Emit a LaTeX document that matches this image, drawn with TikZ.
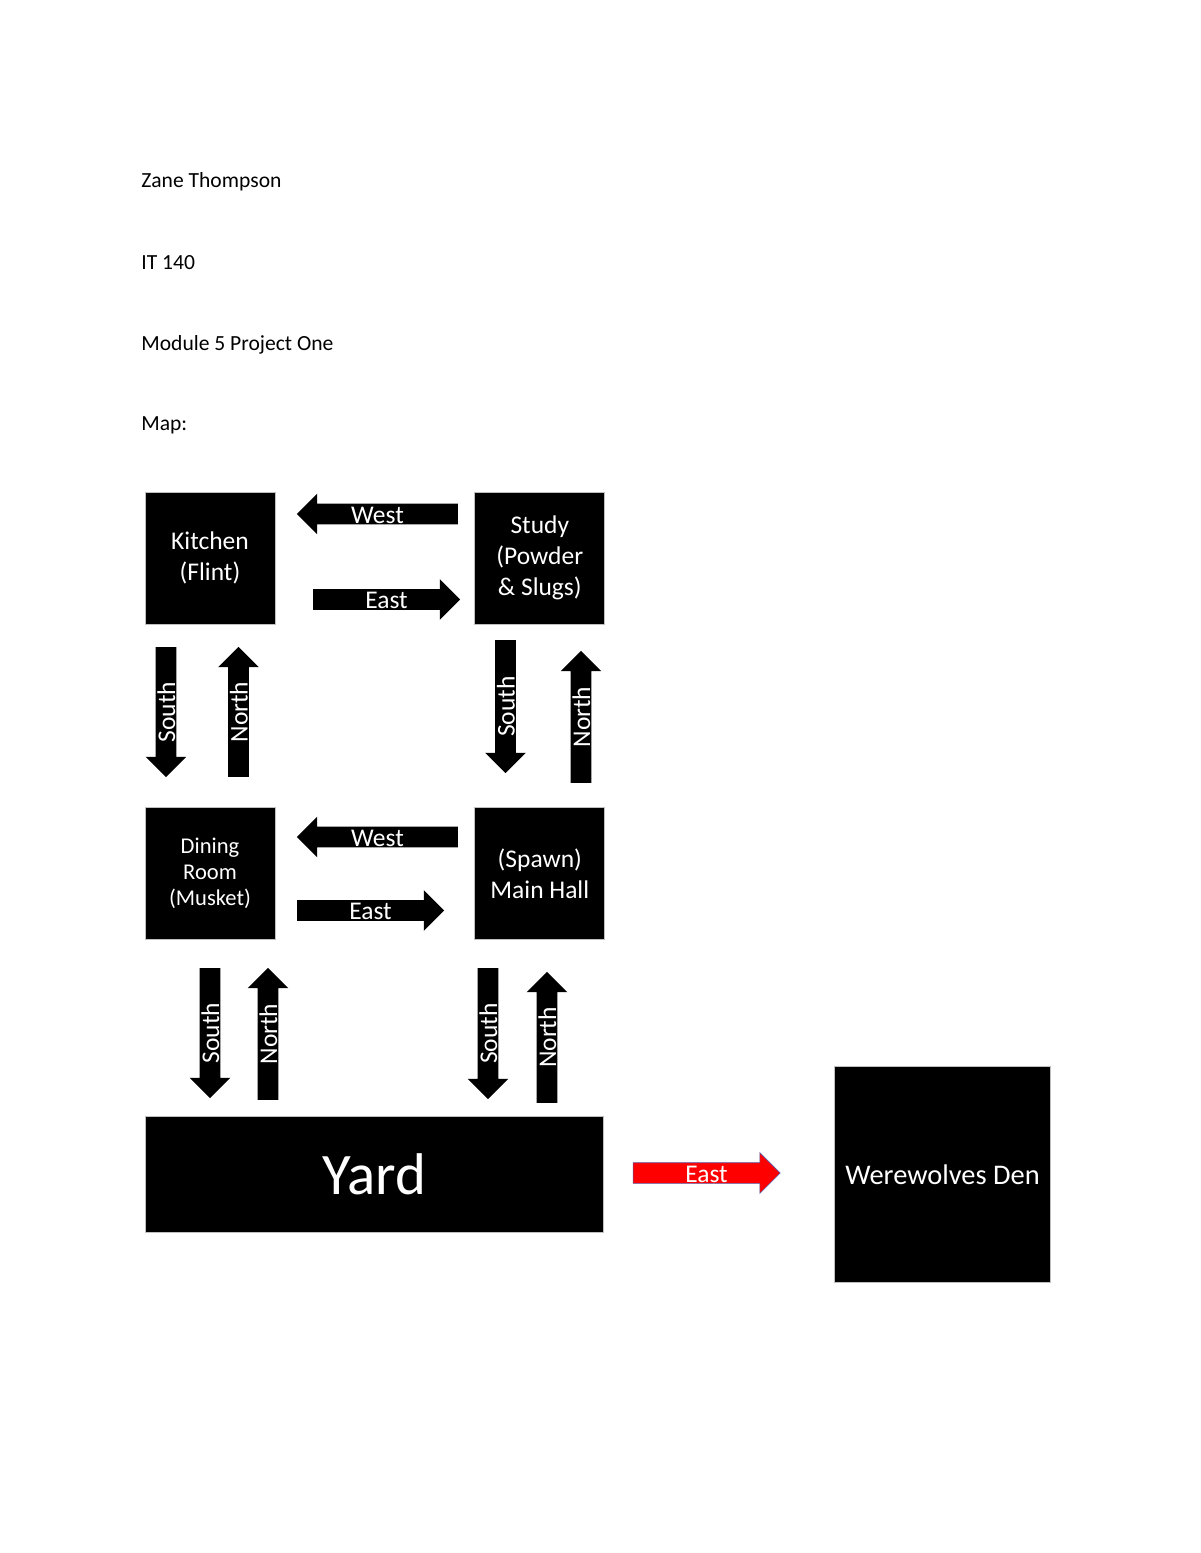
\documentclass[tikz,border=0pt]{standalone}
\usepackage{fontspec}
\setmainfont{Carlito}
\usetikzlibrary{shapes,arrows,positioning,calc}

\newcommand{\pad}{\hspace*{5.1pt}}

\tikzset{
  room/.style={draw=gray!50, fill=black, text=white, rectangle, inner sep=0pt, align=center,
    minimum width=66.3pt, minimum height=67.3pt, font=\fontsize{13}{15.5}\selectfont},
  way/.style={single arrow, fill=black, text=white, inner sep=0pt, text height=9.7pt, text depth=0.5pt,
    single arrow head extend=5.1pt, single arrow tip angle=90, single arrow head indent=0pt,
    minimum height=#1*0.51pt, font=\fontsize{13}{15}\selectfont},
  head/.style={anchor=base west, inner sep=0pt, font=\fontsize{11}{13}\selectfont},
}

\begin{document}
\begin{tikzpicture}[x=0.51pt, y=-0.51pt]
    \useasboundingbox (0,0) rectangle (1200,1553);

    % heading
    \node [head] (name) at (141,188) {Zane Thompson};
    \node [head] (course) at (141,269) {IT 140};
    \node [head] (module) at (141,350) {Module 5 Project One};
    \node [head] (map) at (141,430) {Map:};

    % rooms
    \node [room] (kitchen) at (210,558) {Kitchen\\(Flint)};
    \node [room, right=101.5pt of kitchen, font=\fontsize{13}{15.8}\selectfont] (study) {Study\\(Powder\\\& Slugs)};
    \node [room, below=93.3pt of kitchen, font=\fontsize{11.5}{13.3}\selectfont] (dining) {Dining\\Room\\(Musket)};
    \node [room, right=101.5pt of dining] (hall) {(Spawn)\\Main Hall};
    \node [room, below=89.8pt of dining.south west, anchor=north west, minimum width=234pt, minimum height=59.2pt,
           font=\fontsize{30}{36}\selectfont] (yard) {Yard};
    \node [room, right=117.3pt of yard, minimum width=110pt, minimum height=110pt,
           font=\fontsize{14.5}{17}\selectfont] (den) {Werewolves Den};

    % ways between kitchen and study
    \node [way=161, shape border rotate=180] (sw) at (382.5,514) {West\pad};
    \node [way=147] (ke) at (381.5,599.5) {\pad East};
    \node [way=130, rotate=90, shape border rotate=180] (ks) at (166,707) {South\pad};
    \node [way=130, rotate=90] (dn) at (238.5,717) {\pad North};
    \node [way=133, rotate=90, shape border rotate=180] (ss) at (505.5,701.5) {South\pad};
    \node [way=132, rotate=90] (hn) at (581,722) {\pad North};

    % ways between dining room and main hall
    \node [way=161, shape border rotate=180] (hw) at (382.5,837) {West\pad};
    \node [way=147] (de) at (365.5,910.5) {\pad East};
    \node [way=130, rotate=90, shape border rotate=180] (ds) at (210,1028) {South\pad};
    \node [way=132, rotate=90] (yn1) at (268,1039) {\pad North};
    \node [way=131, rotate=90, shape border rotate=180] (hs) at (488,1028.5) {South\pad};
    \node [way=131, rotate=90] (yn2) at (547,1042.5) {\pad North};

    % way out
    \node [way=147, fill=red, draw=gray!70!blue, line width=0.3pt] (ye) at (701.5,1173) {\pad East};
\end{tikzpicture}
\end{document}
